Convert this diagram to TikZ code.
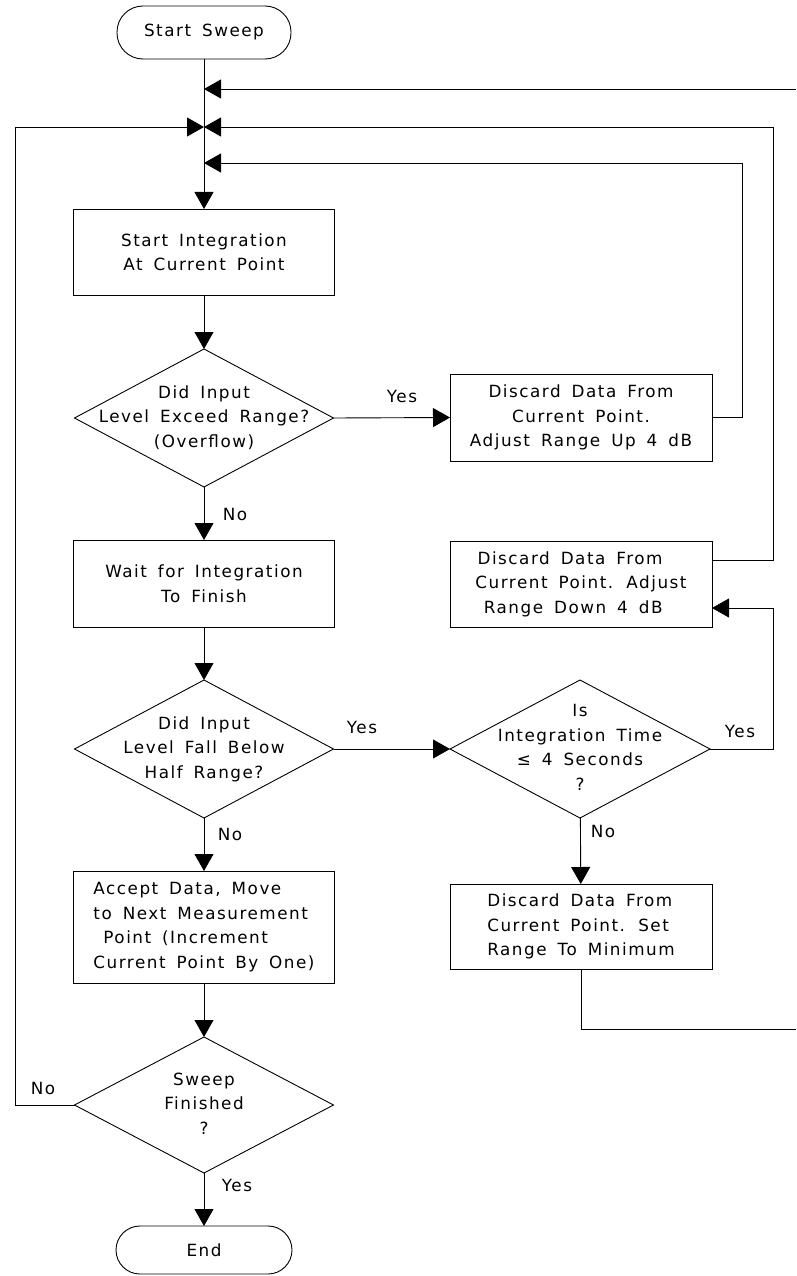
\documentclass[tikz,border=0pt]{standalone}
\usepackage{fontspec}
\setmainfont{DejaVu Sans}[LetterSpace=9,WordSpace=1.6]
\usetikzlibrary{arrows.meta,shapes.geometric}
\newcommand\dtext[1]{\smash{\makebox[0pt]{\raisebox{-4pt}{\begin{tabular}{@{}c@{}}#1\end{tabular}}}}}
\newcommand\rs{\hspace*{24pt}}
\begin{document}
\begin{tikzpicture}[x=1pt,y=-1pt,line width=0.9pt,
  every node/.style={font=\fontsize{16.8}{24.5}\selectfont,inner sep=0pt,outer sep=0pt},
  box/.style={draw,rectangle,minimum width=261pt,align=center},
  term/.style={draw,rectangle,rounded corners=26pt,minimum width=174pt,minimum height=53pt},
  dec/.style={draw,diamond,minimum width=259pt,minimum height=138pt},
  arr/.style={-{Triangle[length=17pt,width=19pt]}}]
\useasboundingbox (0,0) rectangle (796,1276);

% main column
\node[term] (start) at (204,32.5) {Start Sweep};
\coordinate (j1) at (204,89);
\coordinate (j2) at (204,127);
\coordinate (j3) at (204,163);
\node[box,minimum height=86pt] (integ) at (204,252) {Start Integration\\At Current Point};
\node[dec] (over) at (204,418) {\dtext{Did Input\\Level Exceed Range?\\(Overflow)}};
\node[box,minimum height=87pt] (wait) at (204,583.5) {Wait for Integration\\To Finish};
\node[dec] (half) at (204,749) {\dtext{Did Input\\Level Fall Below\\Half Range?}};
\node[box,minimum height=112pt,align=left] (accept) at (204,927) {Accept Data, Move\\to Next Measurement\\\hspace*{10pt}Point (Increment\\Current Point By One)};
\node[dec,minimum height=136pt] (fin) at (204,1105) {\dtext{Sweep\\Finished\\?}};
\node[term,minimum width=176pt,minimum height=48pt,rounded corners=24pt] (end) at (204,1250) {End};

% right column
\node[box,minimum width=262pt,minimum height=87pt] (up) at (581,417.5) {Discard Data From\\Current Point.\\Adjust Range Up 4 dB};
\node[box,minimum width=262pt,minimum height=86pt,align=right] (down) at (581,584) {Discard Data From\rs\\Current Point. Adjust\rs\\Range Down 4 dB\rs};
\node[dec,minimum width=260pt] (itime) at (580,749) {\dtext{Is\\Integration Time\\≤ 4 Seconds\\?}};
\node[box,minimum width=262pt,minimum height=85pt,align=left] (mini) at (581,926.5) {Discard Data From\\Current Point. Set\\Range To Minimum};

% routing coordinates
\coordinate (offtop) at (796,89);
\coordinate (offbot) at (796,1029);
\coordinate (lft) at (15,127);
\coordinate (rout) at (773,127);
\coordinate (rin) at (742,163);
\coordinate (ryes) at (773,608);

% connectors
\draw[arr] (start) -- (integ);
\draw[arr] (offtop) -- (j1);
\draw[arr] (fin.west) -| (lft) -- (j2);
\draw[arr] ([yshift=24pt]down.east) -| (rout) -- (j2);
\draw[arr] (up.east) -| (rin) -- (j3);
\draw[arr] (integ) -- (over);
\draw[arr] (over.east) -- (up.west);
\draw[arr] (over) -- (wait);
\draw[arr] (wait) -- (half);
\draw[arr] (half.east) -- (itime.west);
\draw[arr] (itime.east) -| (ryes) -- ([yshift=-24pt]down.east);
\draw[arr] (itime) -- (mini);
\draw (mini.south) |- (offbot);
\draw[arr] (half) -- (accept);
\draw[arr] (accept) -- (fin);
\draw[arr] (fin) -- (end);

% labels
\node (y1) at (402,396) {Yes};
\node (n1) at (235,514) {No};
\node (y2) at (362,727) {Yes};
\node (y4) at (740,731) {Yes};
\node (n4) at (603,831) {No};
\node (n2) at (230,834) {No};
\node (n3) at (43,1088) {No};
\node (y3) at (237,1185) {Yes};
\end{tikzpicture}
\end{document}
